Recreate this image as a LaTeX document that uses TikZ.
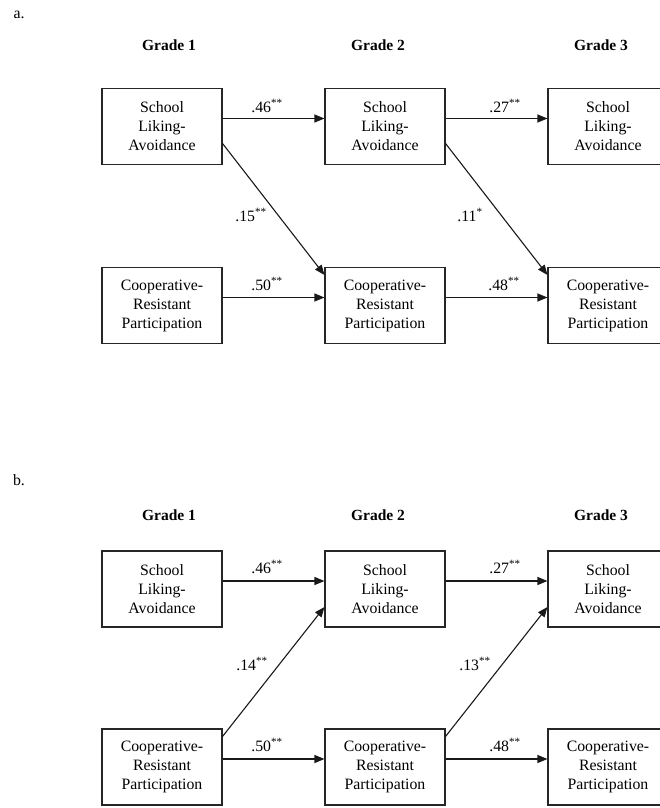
\documentclass[tikz,border=0pt]{standalone}
\usepackage{fontspec}
\setmainfont{Liberation Serif}
\usetikzlibrary{arrows.meta}

\begin{document}
\begin{tikzpicture}[x=1pt, y=-1pt,
    var/.style={draw=black!85, line width=1.1pt, minimum width=120pt, minimum height=76pt,
                inner sep=0pt, align=center, font=\fontsize{15.8}{19}\selectfont},
    coef/.style={inner sep=1pt, font=\fontsize{15.8}{19}\selectfont},
    grade/.style={font=\fontsize{15.5}{19}\selectfont\bfseries},
    arr/.style={draw=black!90, line width=1.1pt, -{Triangle[length=10pt,width=8pt]}}]
      \useasboundingbox (0,0) rectangle (659,808);
      % panel a
      \node[coef] (taga) at (19,15) {a.};
      \node[grade] (g1a) at (169,45) {Grade 1};
      \node[grade] (g2a) at (378,45) {Grade 2};
      \node[grade] (g3a) at (601,45) {Grade 3};
      \node[var] (sla1a) at (162,126.5) {School\\Liking-\\Avoidance};
      \node[var] (sla2a) at (385,126.5) {School\\Liking-\\Avoidance};
      \node[var] (sla3a) at (608,126.5) {School\\Liking-\\Avoidance};
      \node[var] (crp1a) at (162,305.5) {Cooperative-\\Resistant\\Participation};
      \node[var] (crp2a) at (385,305.5) {Cooperative-\\Resistant\\Participation};
      \node[var] (crp3a) at (608,305.5) {Cooperative-\\Resistant\\Participation};
      \draw[arr] ([yshift=8pt]sla1a.east) -- ([yshift=8pt]sla2a.west);
      \draw[arr] ([yshift=8pt]sla2a.east) -- ([yshift=8pt]sla3a.west);
      \draw[arr] ([yshift=8pt]crp1a.east) -- ([yshift=8pt]crp2a.west);
      \draw[arr] ([yshift=8pt]crp2a.east) -- ([yshift=8pt]crp3a.west);
      \draw[arr] ([yshift=-17pt]sla1a.east) -- ([yshift=-8pt]crp2a.north west);
      \draw[arr] ([yshift=-17pt]sla2a.east) -- ([yshift=-8pt]crp3a.north west);
      \node[coef] (c46a) at (267,106) {.46\textsuperscript{**}};
      \node[coef] (c27a) at (505,106) {.27\textsuperscript{**}};
      \node[coef] (c50a) at (267,284) {.50\textsuperscript{**}};
      \node[coef] (c48a) at (504,284) {.48\textsuperscript{**}};
      \node[coef] (c15a) at (251,215) {.15\textsuperscript{**}};
      \node[coef] (c11a) at (470,215) {.11\textsuperscript{*}};
      % panel b
      \node[coef] (tagb) at (19,480) {b.};
      \node[grade] (g1b) at (169,515) {Grade 1};
      \node[grade] (g2b) at (378,515) {Grade 2};
      \node[grade] (g3b) at (601,515) {Grade 3};
      \node[var] (sla1b) at (162,589) {School\\Liking-\\Avoidance};
      \node[var] (sla2b) at (385,589) {School\\Liking-\\Avoidance};
      \node[var] (sla3b) at (608,589) {School\\Liking-\\Avoidance};
      \node[var] (crp1b) at (162,767) {Cooperative-\\Resistant\\Participation};
      \node[var] (crp2b) at (385,767) {Cooperative-\\Resistant\\Participation};
      \node[var] (crp3b) at (608,767) {Cooperative-\\Resistant\\Participation};
      \draw[arr] ([yshift=8pt]sla1b.east) -- ([yshift=8pt]sla2b.west);
      \draw[arr] ([yshift=8pt]sla2b.east) -- ([yshift=8pt]sla3b.west);
      \draw[arr] ([yshift=8pt]crp1b.east) -- ([yshift=8pt]crp2b.west);
      \draw[arr] ([yshift=8pt]crp2b.east) -- ([yshift=8pt]crp3b.west);
      \draw[arr] ([yshift=-8pt]crp1b.north east) -- ([yshift=-18pt]sla2b.west);
      \draw[arr] ([yshift=-8pt]crp2b.north east) -- ([yshift=-18pt]sla3b.west);
      \node[coef] (c46b) at (267,567) {.46\textsuperscript{**}};
      \node[coef] (c27b) at (505,567) {.27\textsuperscript{**}};
      \node[coef] (c50b) at (267,745) {.50\textsuperscript{**}};
      \node[coef] (c48b) at (505,745) {.48\textsuperscript{**}};
      \node[coef] (c14b) at (252,664) {.14\textsuperscript{**}};
      \node[coef] (c13b) at (475,664) {.13\textsuperscript{**}};
    \end{tikzpicture}
\end{document}
